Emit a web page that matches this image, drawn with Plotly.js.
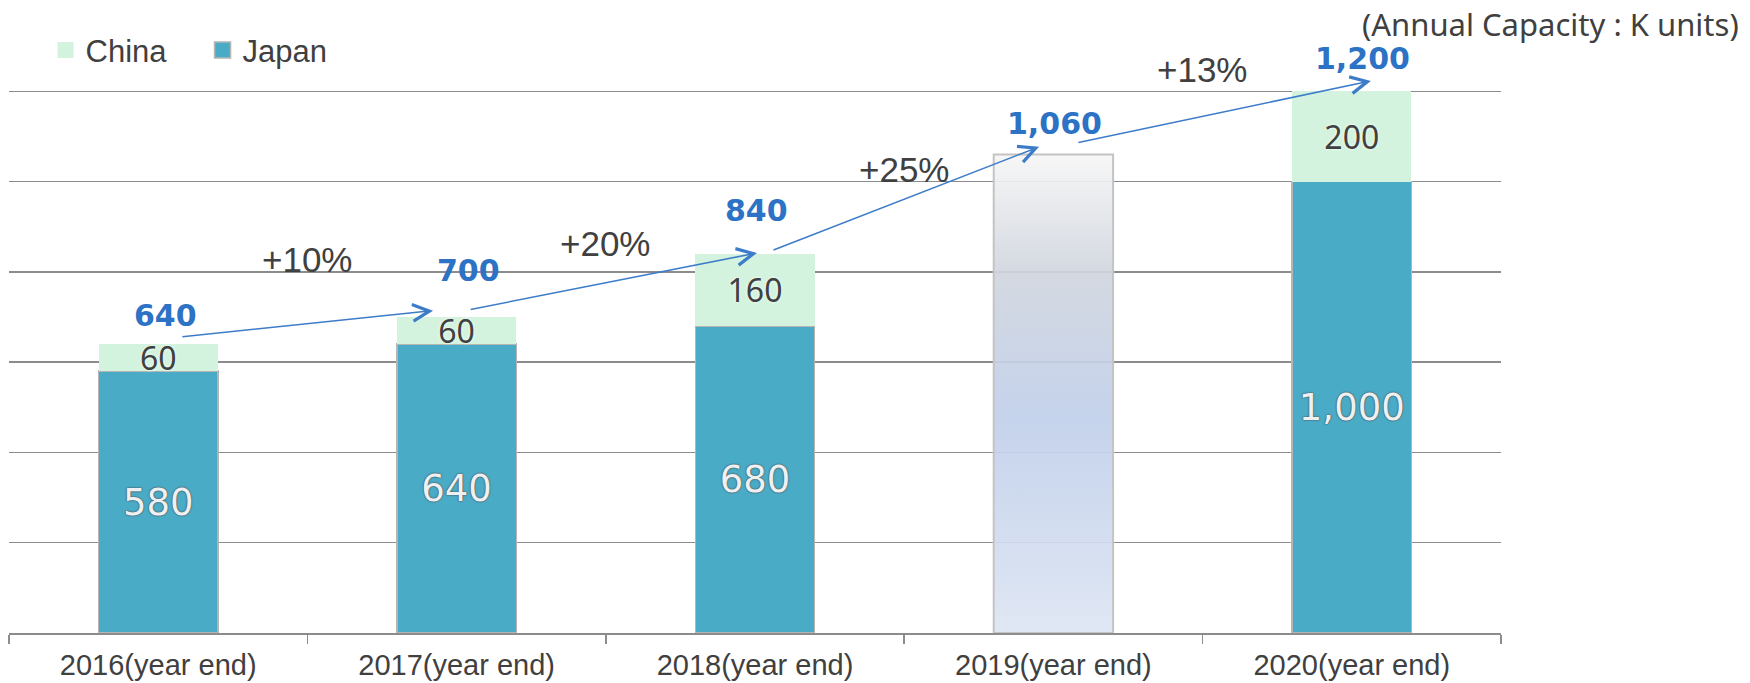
<!DOCTYPE html>
<html>
<head>
<meta charset="utf-8">
<script src="https://cdn.plot.ly/plotly-3.0.1.min.js"></script>
<style>
  html, body { margin: 0; padding: 0; background: #fff; }
  #chart { width: 1750px; height: 683px; }
</style>
</head>
<body>
<div id="chart"></div>
<script>
// values (K units)
var categories = ['2016(year end)', '2017(year end)', '2018(year end)', '2019(year end)', '2020(year end)'];
var japan = [580, 640, 680, null, 1000];
var china = [60, 60, 160, null, 200];
var totals = [640, 700, 840, 1060, 1200];
var growthLabels = ['+10%', '+20%', '+25%', '+13%'];
var planIndex = 3;   // 2019 is drawn as a plain (planned) bar

var fmt = function (v) { return v == null ? '' : v.toLocaleString('en-US'); };
var barHalf = 0.2;   // half bar width in category units (bargap 0.6)
var japanColor = '#4aabc6';
var chinaColor = '#d3f3de';

var japanTrace = {
  type: 'bar',
  name: 'Japan',
  x: categories,
  y: japan,
  text: japan.map(fmt),
  textposition: 'inside',
  insidetextanchor: 'middle',
  constraintext: 'none',
  textangle: 0,
  textfont: { family: 'DejaVu Sans', size: 37, color: '#eef1f4', shadow: '0px 0px 2px #4a4a4a, 0px 0px 1px #4a4a4a' },
  marker: { color: japanColor, line: { color: '#b5b5b5', width: 1.5 } },
  showlegend: false,
  hoverinfo: 'skip'
};

var chinaTrace = {
  type: 'bar',
  name: 'China',
  x: categories,
  y: china,
  text: china.map(fmt),
  textposition: 'inside',
  insidetextanchor: 'middle',
  constraintext: 'none',
  textangle: 0,
  textfont: { family: 'Noto Sans', size: 32, color: '#404040', shadow: '0px 0px 3px #ffffff' },
  marker: { color: chinaColor, line: { width: 0 } },
  showlegend: false,
  hoverinfo: 'skip'
};

// planned 2019 bar with a vertical gradient, on a hidden linear overlay axis
var px = planIndex;
var planTrace = {
  type: 'scatter',
  mode: 'lines',
  xaxis: 'x2',
  yaxis: 'y',
  x: [px - barHalf, px + barHalf, px + barHalf, px - barHalf, px - barHalf],
  y: [0, 0, totals[planIndex], totals[planIndex], 0],
  fill: 'toself',
  fillgradient: {
    type: 'vertical',
    colorscale: [
      [0, 'rgba(221,229,243,0.92)'],
      [0.45, 'rgba(192,207,234,0.92)'],
      [0.75, 'rgba(208,213,222,0.92)'],
      [1, 'rgba(246,246,246,0.92)']
    ]
  },
  line: { color: '#c4c4c4', width: 2 },
  showlegend: false,
  hoverinfo: 'skip'
};

// legend-only entries so the swatches can be larger squares
var legendChina = {
  type: 'scatter', mode: 'markers', name: 'China', x: [null], y: [null],
  marker: { symbol: 'square', size: 17, color: chinaColor, line: { width: 0 } },
  hoverinfo: 'skip'
};
var legendJapan = {
  type: 'scatter', mode: 'markers', name: 'Japan', x: [null], y: [null],
  marker: { symbol: 'square', size: 16, color: japanColor, line: { color: '#b5b5b5', width: 1.5 } },
  hoverinfo: 'skip'
};

var annotations = [];

// totals above the bars
var totShiftY = [29, 47, 43, 31, 33];
var totShiftX = [7, 12, 1, 1, 11];
totals.forEach(function (t, i) {
  annotations.push({
    x: categories[i], y: t, xref: 'x', yref: 'y',
    text: '<b>' + fmt(t) + '</b>',
    showarrow: false, yanchor: 'middle',
    yshift: totShiftY[i], xshift: totShiftX[i],
    font: { family: 'DejaVu Sans', size: 30, color: '#2c72c5' }
  });
});

// growth arrows between totals
var arrStart = [[0.076, 16], [0.042, 16], [0.057, 7], [0.079, 26]];
var arrEnd = [[-0.079, 14], [0.007, 2], [-0.048, 17], [0.064, 23]];
for (var i = 0; i < totals.length - 1; i++) {
  annotations.push({
    xref: 'x', yref: 'y', axref: 'x', ayref: 'y',
    x: i + 1 + arrEnd[i][0], y: totals[i + 1] + arrEnd[i][1],
    ax: i + arrStart[i][0], ay: totals[i] + arrStart[i][1],
    text: '', showarrow: true,
    arrowhead: 5, arrowsize: 2.2, arrowwidth: 1.5, arrowcolor: '#3d7cc9',
    standoff: 0, startstandoff: 0
  });
}

// growth labels
var growShift = [71, 42, 35, 53];
growthLabels.forEach(function (g, i) {
  annotations.push({
    x: i + 0.5, y: (totals[i] + totals[i + 1]) / 2, xref: 'x', yref: 'y',
    text: g, showarrow: false, yanchor: 'middle', yshift: growShift[i],
    font: { family: 'Liberation Sans', size: 35, color: '#404040' }
  });
});

annotations.push({
  xref: 'paper', yref: 'paper', x: 1.161, y: 0.964,
  xanchor: 'right', yanchor: 'middle', showarrow: false,
  text: '(Annual Capacity : K units)',
  font: { family: 'Noto Sans', size: 31, color: '#404040' }
});

var layout = {
  width: 1750,
  height: 683,
  margin: { l: 9, r: 249, t: 1, b: 50 },
  paper_bgcolor: '#ffffff',
  plot_bgcolor: '#ffffff',
  font: { family: 'Liberation Sans', color: '#404040' },
  barmode: 'stack',
  bargap: 0.6,
  showlegend: true,
  legend: {
    orientation: 'h',
    traceorder: 'normal',
    x: 0.0245, y: 0.922, xanchor: 'left', yanchor: 'middle',
    entrywidth: 112, entrywidthmode: 'pixels',
    font: { family: 'Liberation Sans', size: 31, color: '#404040' },
    bgcolor: 'rgba(0,0,0,0)'
  },
  xaxis: {
    type: 'category',
    showline: true, linecolor: '#8c8c8c', linewidth: 1.5,
    ticks: 'outside', tickson: 'boundaries', ticklen: 9, tickcolor: '#8c8c8c', tickwidth: 1.5,
    ticklabelstandoff: 6,
    tickfont: { family: 'Liberation Sans', size: 29, color: '#404040' },
    showgrid: false, fixedrange: true
  },
  xaxis2: {
    overlaying: 'x', range: [-0.5, 4.5], visible: false, fixedrange: true
  },
  yaxis: {
    range: [0, 1400], dtick: 200,
    showgrid: true, gridcolor: '#8c8c8c', gridwidth: 1.5,
    showticklabels: false, zeroline: false, showline: false, fixedrange: true
  },
  annotations: annotations
};

Plotly.newPlot('chart', [japanTrace, chinaTrace, planTrace, legendChina, legendJapan], layout, { displayModeBar: false, staticPlot: true });
</script>
</body>
</html>
